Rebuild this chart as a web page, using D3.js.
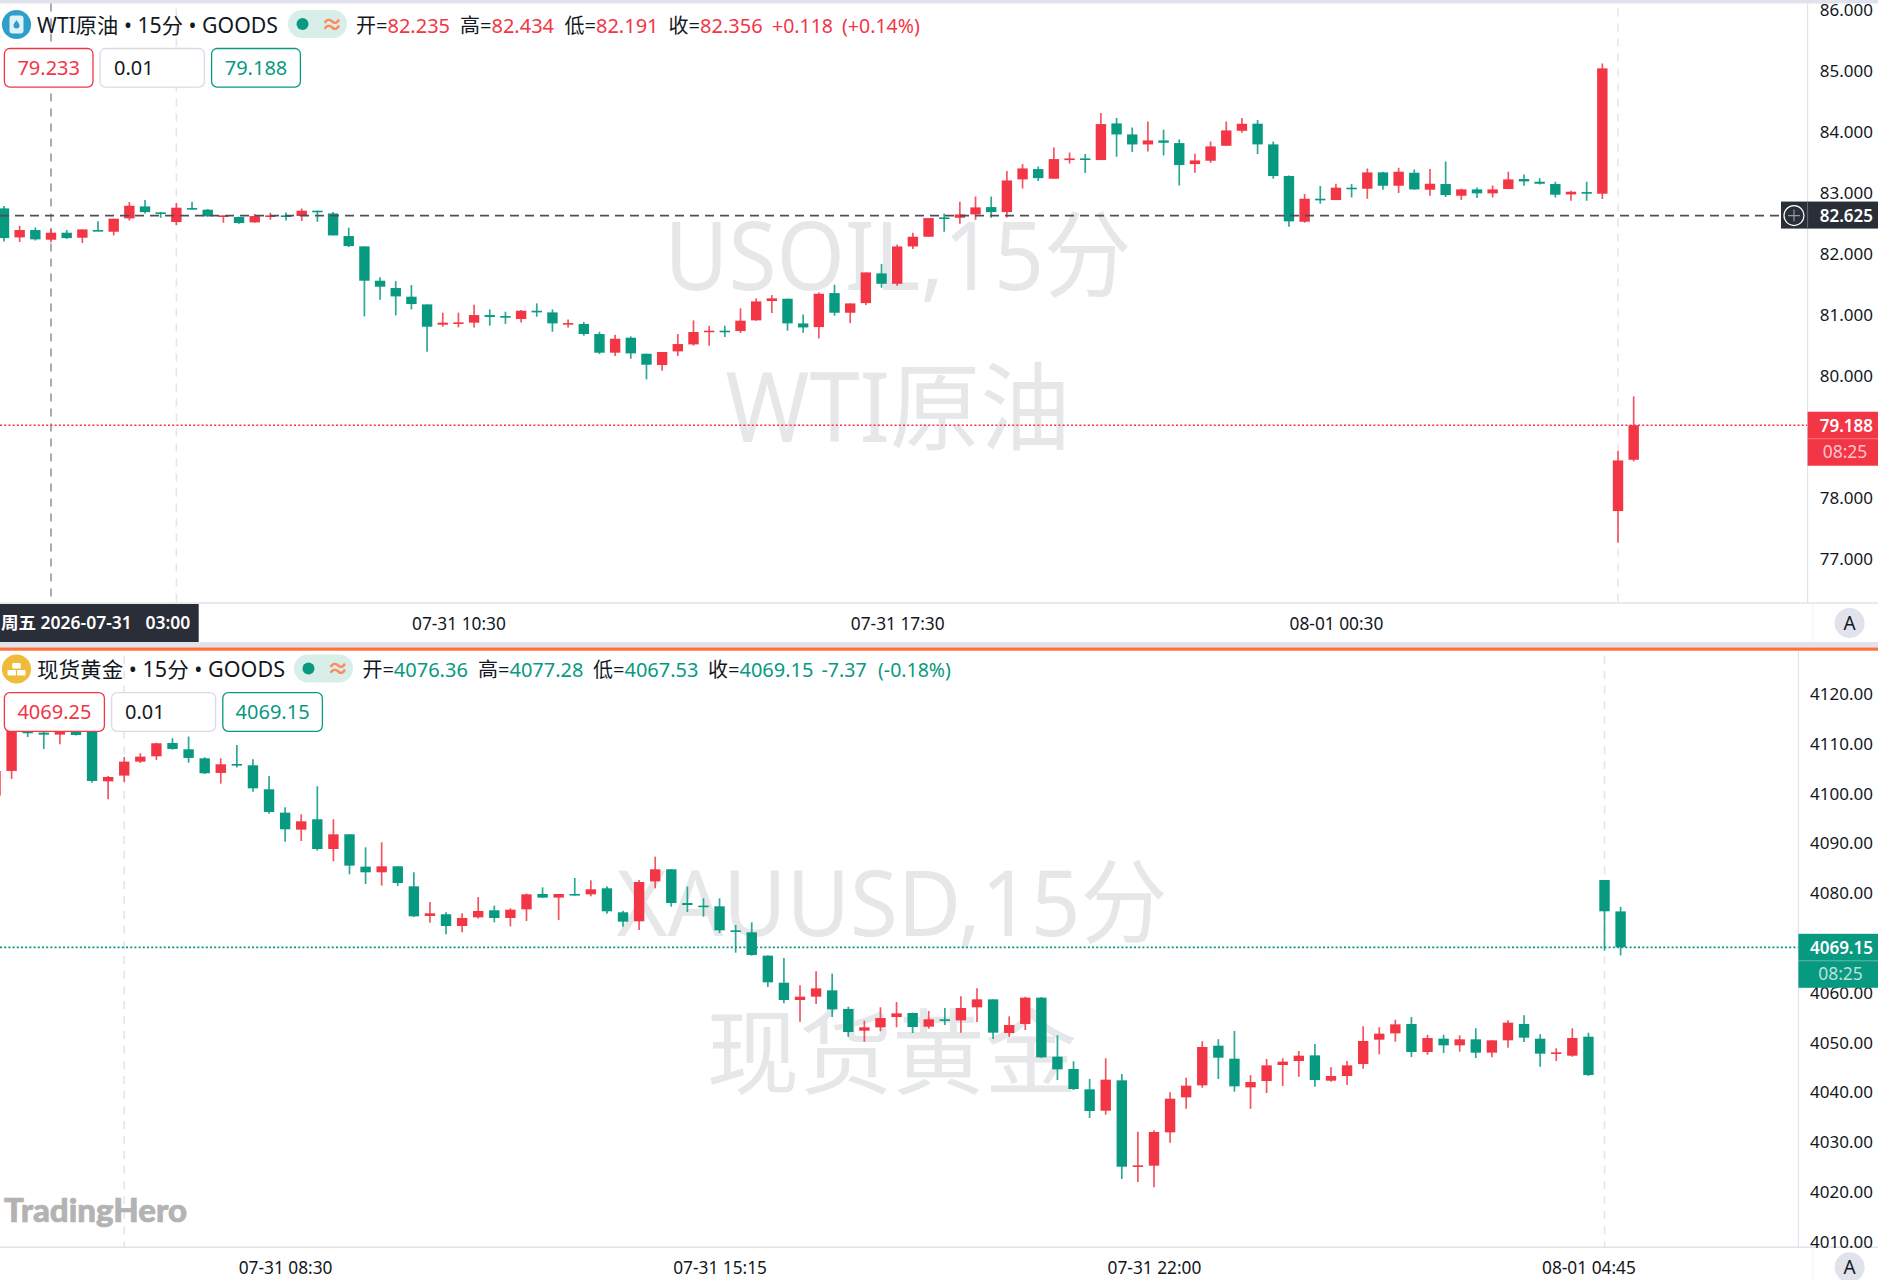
<!DOCTYPE html>
<html><head><meta charset="utf-8">
<script src="https://cdn.jsdelivr.net/npm/d3@7/dist/d3.min.js"></script>
<style>
html,body{margin:0;padding:0;background:#fff;overflow:hidden}
svg{display:block}
text{font-family:"Noto Sans","Noto Sans CJK SC",sans-serif}
.axis path,.axis line{display:none}
</style></head><body>
<svg id="c" width="1878" height="1280"></svg>
<script>
const wtiOpen=[82.743,82.267,82.388,82.229,82.344,82.262,82.388,82.360,82.579,82.775,82.677,82.519,82.748,82.721,82.612,82.601,82.513,82.606,82.628,82.617,82.705,82.660,82.289,82.120,81.557,81.437,81.295,81.169,80.836,80.852,80.869,80.994,80.978,80.929,81.065,81.038,80.847,80.847,80.683,80.377,80.623,80.360,80.175,80.399,80.513,80.721,80.738,80.732,80.907,81.224,81.262,80.857,80.797,81.354,81.032,81.190,81.677,81.507,82.119,82.278,82.595,82.589,82.644,82.764,82.682,83.218,83.387,83.229,83.535,83.562,83.535,84.136,83.955,83.791,83.857,83.813,83.469,83.524,83.769,84.015,84.131,83.792,83.273,82.524,82.901,82.879,83.082,83.065,83.333,83.114,83.327,83.049,83.142,82.950,83.054,82.989,83.060,83.224,83.180,83.142,82.972,83.010,82.983,77.781,78.622];
const wtiHigh=[82.781,82.459,82.431,82.415,82.388,82.398,82.530,82.574,82.847,82.879,82.682,82.830,82.852,82.732,82.628,82.606,82.650,82.672,82.677,82.743,82.705,82.682,82.426,82.120,81.612,81.551,81.486,81.169,81.033,81.033,81.164,81.087,81.049,81.076,81.186,81.087,80.923,80.880,80.721,80.672,80.645,80.360,80.388,80.683,80.907,80.820,80.820,81.104,81.268,81.322,81.262,81.004,81.365,81.491,81.185,81.693,81.830,82.152,82.343,82.584,82.660,82.851,82.939,82.939,83.354,83.469,83.431,83.742,83.660,83.633,84.305,84.223,84.070,84.168,84.032,83.873,83.638,83.841,84.168,84.223,84.191,83.841,83.284,82.978,83.109,83.147,83.142,83.398,83.344,83.409,83.382,83.388,83.513,83.065,83.087,83.120,83.344,83.300,83.235,83.180,83.032,83.180,85.120,78.764,79.661];
const wtiLow=[82.202,82.191,82.218,82.186,82.240,82.175,82.371,82.300,82.546,82.660,82.590,82.469,82.726,82.606,82.508,82.491,82.508,82.557,82.546,82.535,82.525,82.300,82.109,80.972,81.245,80.989,81.087,80.393,80.803,80.792,80.792,80.820,80.847,80.874,80.967,80.721,80.792,80.656,80.355,80.322,80.278,79.940,80.082,80.322,80.492,80.492,80.634,80.699,80.902,81.027,80.738,80.704,80.611,80.983,80.862,81.157,81.442,81.474,82.076,82.278,82.360,82.491,82.556,82.589,82.595,83.070,83.190,83.229,83.480,83.321,83.535,83.589,83.666,83.677,83.611,83.119,83.327,83.491,83.769,83.983,83.633,83.229,82.442,82.508,82.819,82.879,82.923,82.901,83.049,82.994,83.049,82.950,82.928,82.879,82.912,82.923,83.060,83.114,83.136,82.923,82.868,82.868,82.896,77.262,78.595];
const wtiClose=[82.256,82.388,82.235,82.344,82.256,82.398,82.371,82.574,82.786,82.682,82.655,82.754,82.726,82.612,82.628,82.502,82.617,82.628,82.606,82.705,82.682,82.300,82.125,81.557,81.459,81.300,81.175,80.803,80.869,80.874,80.994,80.962,80.951,81.065,81.038,80.858,80.863,80.683,80.377,80.606,80.366,80.180,80.388,80.519,80.716,80.738,80.721,80.902,81.218,81.268,80.858,80.791,81.343,81.032,81.185,81.693,81.507,82.119,82.278,82.584,82.578,82.644,82.759,82.682,83.201,83.398,83.239,83.551,83.562,83.540,84.125,83.955,83.791,83.857,83.819,83.453,83.529,83.759,84.021,84.130,83.792,83.273,82.530,82.901,82.879,83.082,83.065,83.333,83.114,83.344,83.054,83.147,82.961,83.054,82.989,83.054,83.218,83.185,83.147,82.967,83.016,82.989,85.038,78.611,79.188];
const xauOpen=[4099.62,4104.58,4112.82,4112.28,4111.88,4112.82,4112.82,4102.50,4103.64,4106.45,4107.52,4110.20,4108.93,4107.12,4104.18,4105.98,4105.72,4100.89,4096.20,4092.79,4094.87,4088.90,4091.85,4085.35,4084.22,4085.42,4081.40,4075.44,4075.78,4073.43,4075.17,4076.58,4075.04,4076.78,4079.86,4079.13,4079.86,4079.79,4081.00,4076.18,4074.37,4082.40,4084.82,4078.05,4077.52,4077.38,4072.56,4072.16,4067.47,4062.04,4058.56,4059.23,4060.50,4056.75,4052.40,4053.07,4055.14,4055.95,4053.20,4054.68,4054.47,4057.09,4058.69,4051.93,4053.74,4059.03,4047.17,4044.70,4040.61,4036.32,4042.42,4025.07,4025.27,4031.97,4039.00,4041.41,4049.38,4046.77,4041.01,4042.28,4045.50,4046.30,4047.44,4042.35,4043.29,4045.70,4050.59,4051.86,4053.74,4048.11,4050.79,4049.45,4050.66,4047.98,4050.46,4053.74,4050.79,4047.78,4047.37,4051.19,4082.67,4076.36];
const xauHigh=[4104.58,4117.5,4114.82,4114.16,4114.16,4114.16,4113.5,4103.57,4107.39,4108.13,4110.27,4111.14,4111.48,4107.32,4107.12,4109.80,4106.92,4103.57,4097.28,4095.87,4101.50,4094.87,4091.85,4089.24,4090.24,4085.42,4084.22,4078.25,4076.18,4075.98,4079.26,4077.52,4076.98,4079.93,4081.20,4079.86,4083.08,4082.61,4081.40,4076.51,4082.67,4087.36,4084.82,4081.33,4078.99,4078.99,4073.63,4074.17,4067.53,4067.00,4061.51,4064.32,4063.85,4057.22,4054.41,4057.09,4058.16,4056.01,4056.35,4056.95,4059.30,4060.90,4058.69,4055.28,4059.23,4059.16,4051.46,4046.24,4042.69,4046.84,4043.69,4032.10,4032.37,4040.01,4042.95,4050.25,4050.66,4052.33,4043.42,4046.70,4046.84,4048.31,4049.72,4045.03,4046.30,4053.27,4053.07,4054.61,4055.14,4051.59,4051.59,4051.46,4052.87,4050.46,4054.47,4055.48,4051.66,4048.85,4052.87,4052.00,4082.67,4077.28];
const xauLow=[4099.62,4102.97,4111.41,4109.00,4109.94,4111.68,4102.23,4098.88,4102.37,4106.18,4106.79,4108.86,4106.25,4103.97,4102.03,4105.25,4100.42,4096.00,4090.38,4090.51,4088.57,4086.43,4083.81,4081.87,4081.54,4081.47,4075.24,4074.10,4071.76,4072.16,4074.91,4074.17,4073.36,4074.44,4079.13,4074.64,4079.53,4079.39,4075.91,4073.30,4072.63,4081.00,4077.31,4076.24,4075.30,4072.02,4068.07,4067.47,4061.17,4057.89,4054.21,4057.76,4055.14,4051.19,4050.19,4052.26,4053.07,4051.93,4052.80,4053.54,4052.00,4054.14,4050.72,4051.19,4052.53,4046.97,4042.48,4040.48,4034.85,4035.52,4022.59,4021.99,4020.92,4029.89,4036.72,4040.94,4042.69,4040.14,4036.72,4039.87,4041.28,4043.15,4041.14,4042.15,4041.48,4044.76,4047.64,4050.19,4047.11,4047.58,4047.91,4048.18,4046.91,4047.04,4048.98,4050.12,4045.16,4046.30,4047.17,4043.29,4068.47,4067.53];
const xauClose=[4104.58,4116.16,4112.15,4111.88,4113.15,4111.81,4102.57,4103.37,4106.45,4107.46,4110.14,4109.00,4107.19,4104.11,4105.92,4105.65,4101.09,4096.34,4092.86,4094.46,4088.90,4091.85,4085.56,4084.22,4085.42,4082.07,4075.37,4075.98,4073.43,4075.04,4076.45,4075.04,4076.71,4079.79,4079.13,4079.86,4079.66,4080.80,4076.38,4074.30,4082.27,4084.82,4078.05,4077.65,4077.25,4072.56,4072.29,4067.60,4062.11,4058.56,4059.23,4060.90,4056.68,4052.13,4053.07,4054.94,4055.88,4053.13,4054.68,4054.47,4056.95,4058.69,4052.00,4053.54,4059.03,4047.04,4044.63,4040.68,4036.26,4042.55,4025.07,4025.34,4032.04,4038.73,4041.35,4049.12,4046.97,4041.21,4042.08,4045.43,4046.17,4047.37,4042.48,4043.29,4045.43,4050.32,4051.80,4053.67,4048.11,4050.92,4049.45,4050.66,4047.98,4050.46,4054.01,4050.99,4047.78,4048.04,4050.92,4043.49,4076.38,4069.15];

const wtiPriceTicks=[77,78,80,81,82,83,84,85,86];
const xauPriceTicks=[4010,4020,4030,4040,4050,4060,4080,4090,4100,4110,4120];
const wtiTimeBars=[29,57,85], wtiTimeLabels=["07-31 10:30","07-31 17:30","08-01 00:30"];
const xauTimeBars=[18,45,72,99], xauTimeLabels=["07-31 08:30","07-31 15:15","07-31 22:00","08-01 04:45"];
const wtiGridBars=[11,103], xauGridBars=[8,100];

const UP="#f23645", DOWN="#089981", GRID="#e4e5ec", BORDER="#e0e3eb", INK="#131722", WM="#e6e7e9";
const svg=d3.select("#c");
svg.append("rect").attr("width",1878).attr("height",1280).attr("fill","#fff");
svg.append("rect").attr("width",1878).attr("height",3.5).attr("fill",BORDER);

function pane(o){
  const g=svg.append("g");
  const x=d3.scaleLinear().domain([0,1]).range([o.x0,o.x0+o.dx]);
  const y=d3.scaleLinear().domain(o.yDomain).range(o.yRange);
  const clipId="clip"+Math.round(o.top);
  g.append("clipPath").attr("id",clipId).append("rect").attr("x",0).attr("y",o.top).attr("width",o.axisX).attr("height",o.bottom-o.top);
  g.selectAll(".gr").data(o.gridBars).join("line").attr("x1",d=>x(d)).attr("x2",d=>x(d))
    .attr("y1",o.top+5).attr("y2",o.bottom).attr("stroke",GRID).attr("stroke-width",1.5).attr("stroke-dasharray","8 7");
  o.wm.forEach(w=>g.append("text").attr("x",w.x).attr("y",w.y).attr("text-anchor","middle")
    .attr("font-size",w.s).attr("fill",WM).attr("textLength",w.l).attr("lengthAdjust","spacingAndGlyphs").text(w.t));
  if(o.cross!=null){
    g.append("line").attr("x1",x(o.cross)).attr("x2",x(o.cross)).attr("y1",o.top).attr("y2",o.bottom)
      .attr("stroke","#54575f").attr("stroke-width",1).attr("stroke-dasharray","8 7");
  }
  const cg=g.append("g").attr("clip-path",`url(#${clipId})`);
  const idx=d3.range(o.open.length);
  const col=i=>o.close[i]>=o.open[i]?UP:DOWN;
  cg.selectAll(".w").data(idx).join("line").attr("x1",x).attr("x2",x)
    .attr("y1",i=>y(o.high[i])).attr("y2",i=>y(o.low[i]))
    .attr("stroke",col).attr("stroke-width",1.7).attr("stroke-opacity",.85);
  cg.selectAll(".b").data(idx).join("rect").attr("x",i=>x(i)-5.2).attr("width",10.4)
    .attr("y",i=>Math.min(y(o.open[i]),y(o.close[i])))
    .attr("height",i=>Math.max(1.6,Math.abs(y(o.open[i])-y(o.close[i]))))
    .attr("fill",col);
  g.append("line").attr("x1",0).attr("x2",o.axisX).attr("y1",y(o.last)).attr("y2",y(o.last))
    .attr("stroke",o.lastCol).attr("stroke-width",1.7).attr("stroke-dasharray","2 2.2");
  g.append("line").attr("x1",o.axisX).attr("x2",o.axisX).attr("y1",o.top).attr("y2",o.bottom).attr("stroke",BORDER).attr("stroke-width",1.2);
  g.append("line").attr("x1",0).attr("x2",1878).attr("y1",o.bottom).attr("y2",o.bottom).attr("stroke",BORDER).attr("stroke-width",1.5);
  g.append("line").attr("x1",1813).attr("x2",1813).attr("y1",o.bottom).attr("y2",o.bottom+39).attr("stroke","#f0f1f4");
  g.append("g").attr("class","axis").attr("transform","translate(1873,0)")
    .call(d3.axisLeft(y).tickValues(o.priceTicks).tickSize(0).tickPadding(0).tickFormat(d3.format(o.fmt)))
    .call(a=>a.selectAll("text").attr("font-size",o.tickSize).attr("fill",INK));
  g.append("g").attr("class","axis").attr("transform",`translate(0,${o.bottom})`)
    .call(d3.axisBottom(x).tickValues(o.timeBars).tickSize(0).tickPadding(0).tickFormat(d=>o.timeLabels[o.timeBars.indexOf(d)]))
    .call(a=>a.selectAll("text").attr("font-size",17.3).attr("fill",INK).attr("dy",null).attr("y",26.5));
  const t=o.titleY;
  g.append("circle").attr("cx",16.5).attr("cy",t).attr("r",14.6).attr("fill",o.iconCol);
  o.icon(g,t);
  g.append("text").attr("x",37).attr("y",t+8).attr("font-size",21).attr("fill",INK)
    .attr("textLength",o.titleLen).attr("lengthAdjust","spacingAndGlyphs").text(o.title);
  g.append("rect").attr("x",o.pillX).attr("y",t-14.5).attr("width",59).attr("height",28).attr("rx",14).attr("fill","#d8efe9");
  g.append("circle").attr("cx",o.pillX+14.5).attr("cy",t-0.5).attr("r",6).attr("fill",DOWN);
  g.append("text").attr("x",o.pillX+44).attr("y",t+7).attr("text-anchor","middle").attr("font-size",22).attr("font-weight",700).attr("fill","#ff8a5c").text("≈");
  o.legend.forEach(l=>{
    const tx=g.append("text").attr("x",l.x).attr("y",t+8).attr("font-size",l.k?20:19.5);
    if(l.k) tx.append("tspan").attr("fill",INK).text(l.k);
    tx.append("tspan").attr("fill",o.legendCol).text(l.v);
  });
  const by=o.boxY, bh=38.6;
  o.boxes.forEach(b=>{
    g.append("rect").attr("x",b.x).attr("y",by).attr("width",b.w).attr("height",bh).attr("rx",5.5)
      .attr("fill","#fff").attr("stroke",b.c).attr("stroke-width",1.3);
    g.append("text").attr("x",b.tx).attr("y",by+26.5).attr("text-anchor",b.a).attr("font-size",20)
      .attr("fill",b.f).text(b.t);
  });
  const ly=y(o.last);
  g.append("rect").attr("x",o.axisX).attr("y",ly-13.5).attr("width",1878-o.axisX).attr("height",54).attr("fill",o.lastCol);
  g.append("line").attr("x1",o.axisX).attr("x2",1878).attr("y1",ly+13.5).attr("y2",ly+13.5).attr("stroke","#fff").attr("stroke-opacity",.35);
  g.append("text").attr("x",1873).attr("y",ly+6.5).attr("text-anchor","end").attr("font-size",o.tickSize).attr("font-weight",600).attr("fill","#fff").text(d3.format(o.fmt)(o.last));
  g.append("text").attr("x",o.timerX).attr("y",ly+33).attr("text-anchor","middle").attr("font-size",17.5).attr("fill","#fff").attr("fill-opacity",.72).text("08:25");
  g.append("circle").attr("cx",1849.6).attr("cy",o.bottom+20).attr("r",15).attr("fill","#e0e3eb");
  g.append("text").attr("x",1849.6).attr("y",o.bottom+27).attr("text-anchor","middle").attr("font-size",19).attr("fill",INK).text("A");
  return {x,y};
}

const dropIcon=(g,t)=>{
  g.append("rect").attr("x",9.5).attr("y",t-9).attr("width",14).attr("height",18).attr("rx",3).attr("fill","#fff").attr("fill-opacity",.85);
  g.append("path").attr("d",`M16.5 ${t-4.5}c2 3 3 4 3 5.5a3 3 0 0 1-6 0c0-1.500 1-2.500 3-5.500z`).attr("fill","#2e9fca");
};
const barIcon=(g,t)=>{
  [[11.5,t+1],[21,t+1],[16.2,t-6]].forEach(p=>g.append("rect").attr("x",p[0]-4).attr("y",p[1]).attr("width",8.500).attr("height",5.500).attr("rx",1).attr("fill","#fff"));
};

const a=pane({top:3.5,bottom:603,axisX:1807.6,x0:4,dx:15.67,yDomain:[86,77],yRange:[9.7,558.7],
  open:wtiOpen,high:wtiHigh,low:wtiLow,close:wtiClose,last:79.188,lastCol:UP,gridBars:wtiGridBars,cross:3,
  wm:[{t:"USOIL,15分",x:898,y:290,s:95,l:467},{t:"WTI原油",x:898,y:442,s:96,l:345}],
  priceTicks:wtiPriceTicks,fmt:".3f",tickSize:17,timeBars:wtiTimeBars,timeLabels:wtiTimeLabels,
  titleY:24.5,iconCol:"#2e9fca",icon:dropIcon,title:"WTI原油 • 15分 • GOODS",titleLen:241,pillX:288,legendCol:UP,
  legend:[{k:"开=",v:"82.235",x:356},{k:"高=",v:"82.434",x:460},{k:"低=",v:"82.191",x:564.5},{k:"收=",v:"82.356",x:668.6},{v:"+0.118",x:772},{v:"(+0.14%)",x:842}],
  boxY:48.5,boxes:[{x:4.400,w:88.600,c:UP,f:UP,t:"79.233",tx:48.7,a:"middle"},{x:100,w:104.400,c:"#d8dbe5",f:INK,t:"0.01",tx:114,a:"start"},{x:211.6,w:88.800,c:DOWN,f:DOWN,t:"79.188",tx:256,a:"middle"}],
  timerX:1845});
const b=pane({top:651,bottom:1247.3,axisX:1798.4,x0:-4.49,dx:16.09,yDomain:[4120,4010],yRange:[694.2,1241.7],
  open:xauOpen,high:xauHigh,low:xauLow,close:xauClose,last:4069.15,lastCol:DOWN,gridBars:xauGridBars,cross:null,
  wm:[{t:"XAUUSD,15分",x:892,y:936,s:92,l:551},{t:"现货黄金",x:892,y:1087,s:93,l:371}],
  priceTicks:xauPriceTicks,fmt:".2f",tickSize:17,timeBars:xauTimeBars,timeLabels:xauTimeLabels,
  titleY:669,iconCol:"#efbb3b",icon:barIcon,title:"现货黄金 • 15分 • GOODS",titleLen:248,pillX:294,legendCol:DOWN,
  legend:[{k:"开=",v:"4076.36",x:362.4},{k:"高=",v:"4077.28",x:478},{k:"低=",v:"4067.53",x:593},{k:"收=",v:"4069.15",x:708},{v:"-7.37",x:821.6},{v:"(-0.18%)",x:878}],
  boxY:692.7,boxes:[{x:4.400,w:100,c:UP,f:UP,t:"4069.25",tx:54.4,a:"middle"},{x:111.6,w:104,c:"#d8dbe5",f:INK,t:"0.01",tx:125,a:"start"},{x:222.8,w:99.600,c:DOWN,f:DOWN,t:"4069.15",tx:272.6,a:"middle"}],
  timerX:1840.5});

const cy=a.y(82.625);
svg.append("line").attr("x1",0).attr("x2",1781).attr("y1",cy).attr("y2",cy).attr("stroke","#4c4f5a").attr("stroke-width",1.6).attr("stroke-dasharray","9 6");
svg.append("rect").attr("x",1781).attr("y",cy-14).attr("width",97).attr("height",27).attr("fill","#2a2e39");
svg.append("line").attr("x1",1807.6).attr("x2",1807.6).attr("y1",cy-14).attr("y2",cy+13).attr("stroke","#6a6d78");
svg.append("circle").attr("cx",1794).attr("cy",cy).attr("r",10).attr("fill","none").attr("stroke","#fff").attr("stroke-width",1.2);
svg.append("path").attr("d",`M1788 ${cy}H1800M1794 ${cy-6}V${cy+6}`).attr("stroke","#9598a1").attr("stroke-width",1.2);
svg.append("text").attr("x",1873).attr("y",cy+6.5).attr("text-anchor","end").attr("font-size",17).attr("font-weight",600).attr("fill","#fff").text("82.625");
svg.append("rect").attr("x",0).attr("y",604).attr("width",198.7).attr("height",38).attr("fill","#2a2e39");
svg.append("text").attr("x",1).attr("y",629).attr("font-size",17.5).attr("font-weight",600).attr("fill","#fff").text("周五 2026-07-31\u00A0\u00A0 03:00");
svg.append("rect").attr("x",0).attr("y",642).attr("width",1878).attr("height",5.5).attr("fill",BORDER);
svg.append("rect").attr("x",0).attr("y",647.5).attr("width",1878).attr("height",3.2).attr("fill","#ff7138");
svg.append("text").attr("x",4).attr("y",1222).attr("font-size",32).attr("font-weight",900).attr("fill","#b3b3b3")
  .attr("stroke","#b3b3b3").attr("stroke-width",.7).attr("textLength",183).attr("lengthAdjust","spacingAndGlyphs")
  .style("font-family","Lato, sans-serif").text("TradingHero");
</script>
</body></html>
